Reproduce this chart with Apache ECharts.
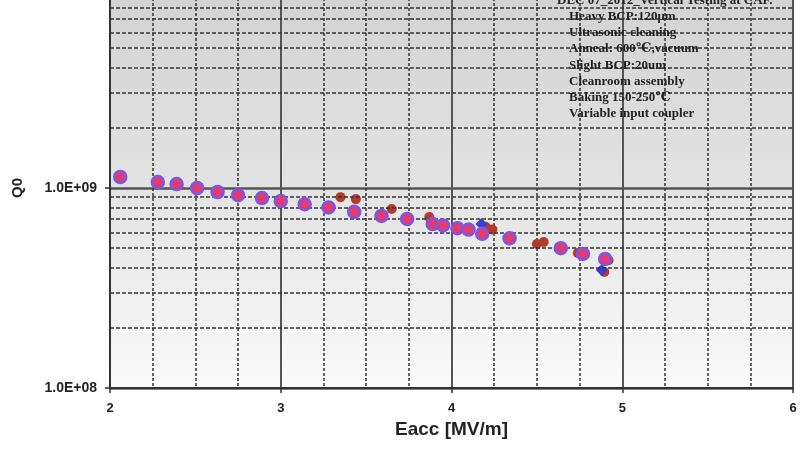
<!DOCTYPE html>
<html>
<head>
<meta charset="utf-8">
<script src="https://cdn.jsdelivr.net/npm/echarts@6/dist/echarts.min.js"></script>
<style>
  html, body { margin: 0; padding: 0; background: #fff; }
  #chart { width: 804px; height: 454px; }
</style>
</head>
<body>
<div id="chart"></div>
<script>
// pink circles (main run), [Eacc, Q0]
const pinkPts = [
  [2.06, 1.135e9], [2.28, 1.07e9], [2.39, 1.047e9], [2.51, 1.0e9], [2.63, 9.55e8],
  [2.75, 9.2e8], [2.89, 8.9e8], [3.0, 8.6e8], [3.14, 8.3e8], [3.28, 8.0e8],
  [3.43, 7.6e8], [3.59, 7.25e8], [3.74, 7.0e8], [3.89, 6.6e8], [3.95, 6.5e8],
  [4.035, 6.3e8], [4.10, 6.2e8], [4.18, 5.9e8], [4.34, 5.6e8], [4.64, 5.0e8],
  [4.77, 4.68e8], [4.90, 4.42e8]
];
// brown dots
const brownPts = [
  [3.35, 9.0e8], [3.44, 8.8e8], [3.65, 7.85e8], [3.87, 7.16e8], [4.2, 6.4e8],
  [4.24, 6.2e8], [4.50, 5.25e8], [4.54, 5.37e8], [4.74, 4.73e8], [4.92, 4.35e8],
  [4.895, 3.8e8]
];
// blue diamonds
const bluePts = [
  [2.75, 9.3e8], [4.175, 6.6e8], [4.88, 3.89e8]
];
// dashed minor grid values on the log axis
const minorY = [2e8, 3e8, 4e8, 5e8, 6e8, 7e8, 8e8, 9e8, 2e9, 3e9, 4e9, 5e9, 6e9, 7e9, 8e9, 9e9];
const noteLines = [
  'DEC 07_2012_Vertical Testing at CAF.',
  'Heavy BCP:120μm',
  'Ultrasonic cleaning',
  'Anneal: 600℃,vacuum',
  'Slight BCP:20um',
  'Cleanroom assembly',
  'Baking 150-250℃',
  'Variable input coupler'
];

const chart = echarts.init(document.getElementById('chart'));

const notes = noteLines.map((t, i) => ({
  type: 'text',
  left: i === 0 ? 557 : 569,
  top: i * 16.2 - 6,
  z: 10,
  style: {
    text: t,
    font: 'bold 13px "Liberation Serif", "DejaVu Serif", serif',
    fill: '#222'
  }
}));

const sans = 'Liberation Sans, Arial';

chart.setOption({
  backgroundColor: '#fff',
  animation: false,
  grid: {
    left: 110, right: 11, top: -12, bottom: 66,
    outerBoundsMode: 'none',
    show: true,
    borderWidth: 0,
    backgroundColor: new echarts.graphic.LinearGradient(0, 0, 0, 1, [
      {offset: 0, color: '#d2d2d2'},
      {offset: 0.5, color: '#e3e3e3'},
      {offset: 1, color: '#fbfbfb'}
    ])
  },
  xAxis: {
    type: 'value',
    min: 2, max: 6, interval: 1,
    name: 'Eacc [MV/m]',
    nameLocation: 'middle',
    nameGap: 32,
    nameTextStyle: {fontFamily: sans, fontWeight: 'bold', fontSize: 19, color: '#222'},
    axisLine: {show: true, lineStyle: {color: '#333', width: 2}},
    axisTick: {show: true, length: 5, lineStyle: {color: '#333', width: 1.5}},
    axisLabel: {fontFamily: sans, fontWeight: 'bold', fontSize: 13, color: '#222', margin: 14},
    splitLine: {show: true, lineStyle: {color: '#555', width: 2}},
    minorTick: {show: false, splitNumber: 4},
    minorSplitLine: {show: true, lineStyle: {color: '#333', width: 1.5, type: [3, 2]}}
  },
  yAxis: {
    type: 'log',
    logBase: 10,
    min: 1e8, max: 1e10,
    name: 'Q0',
    nameLocation: 'middle',
    nameGap: 85,
    nameTextStyle: {fontFamily: sans, fontWeight: 'bold', fontSize: 15, color: '#222'},
    axisLine: {show: true, lineStyle: {color: '#333', width: 2}},
    axisTick: {show: true, length: 5, lineStyle: {color: '#333', width: 1.5}},
    axisLabel: {
      fontFamily: sans, fontWeight: 'bold', fontSize: 14, color: '#222', margin: 13,
      formatter: v => {
        const e = Math.round(Math.log10(v));
        return '1.0E+' + String(e).padStart(2, '0');
      }
    },
    splitLine: {show: true, lineStyle: {color: '#555', width: 2.5}}
  },
  graphic: notes,
  series: [
    {
      name: 'grid',
      type: 'scatter',
      data: [],
      markLine: {
        silent: true,
        symbol: 'none',
        label: {show: false},
        lineStyle: {color: '#333', width: 1.5, type: [4, 2]},
        data: minorY.map(v => ({yAxis: v}))
      }
    },
    {
      name: 'brown',
      type: 'scatter',
      symbol: 'circle',
      symbolSize: 10,
      itemStyle: {color: '#b33b2b', opacity: 1},
      data: brownPts,
      z: 3
    },
    {
      name: 'blue',
      type: 'scatter',
      symbol: 'diamond',
      symbolSize: 12,
      itemStyle: {color: '#3a3fd0', opacity: 1},
      data: bluePts,
      z: 4
    },
    {
      name: 'pink',
      type: 'scatter',
      symbol: 'circle',
      symbolSize: 12,
      itemStyle: {color: '#e63a6c', borderColor: '#7a56e8', borderWidth: 2.5, opacity: 1},
      data: pinkPts,
      z: 5
    }
  ]
});
</script>
</body>
</html>
